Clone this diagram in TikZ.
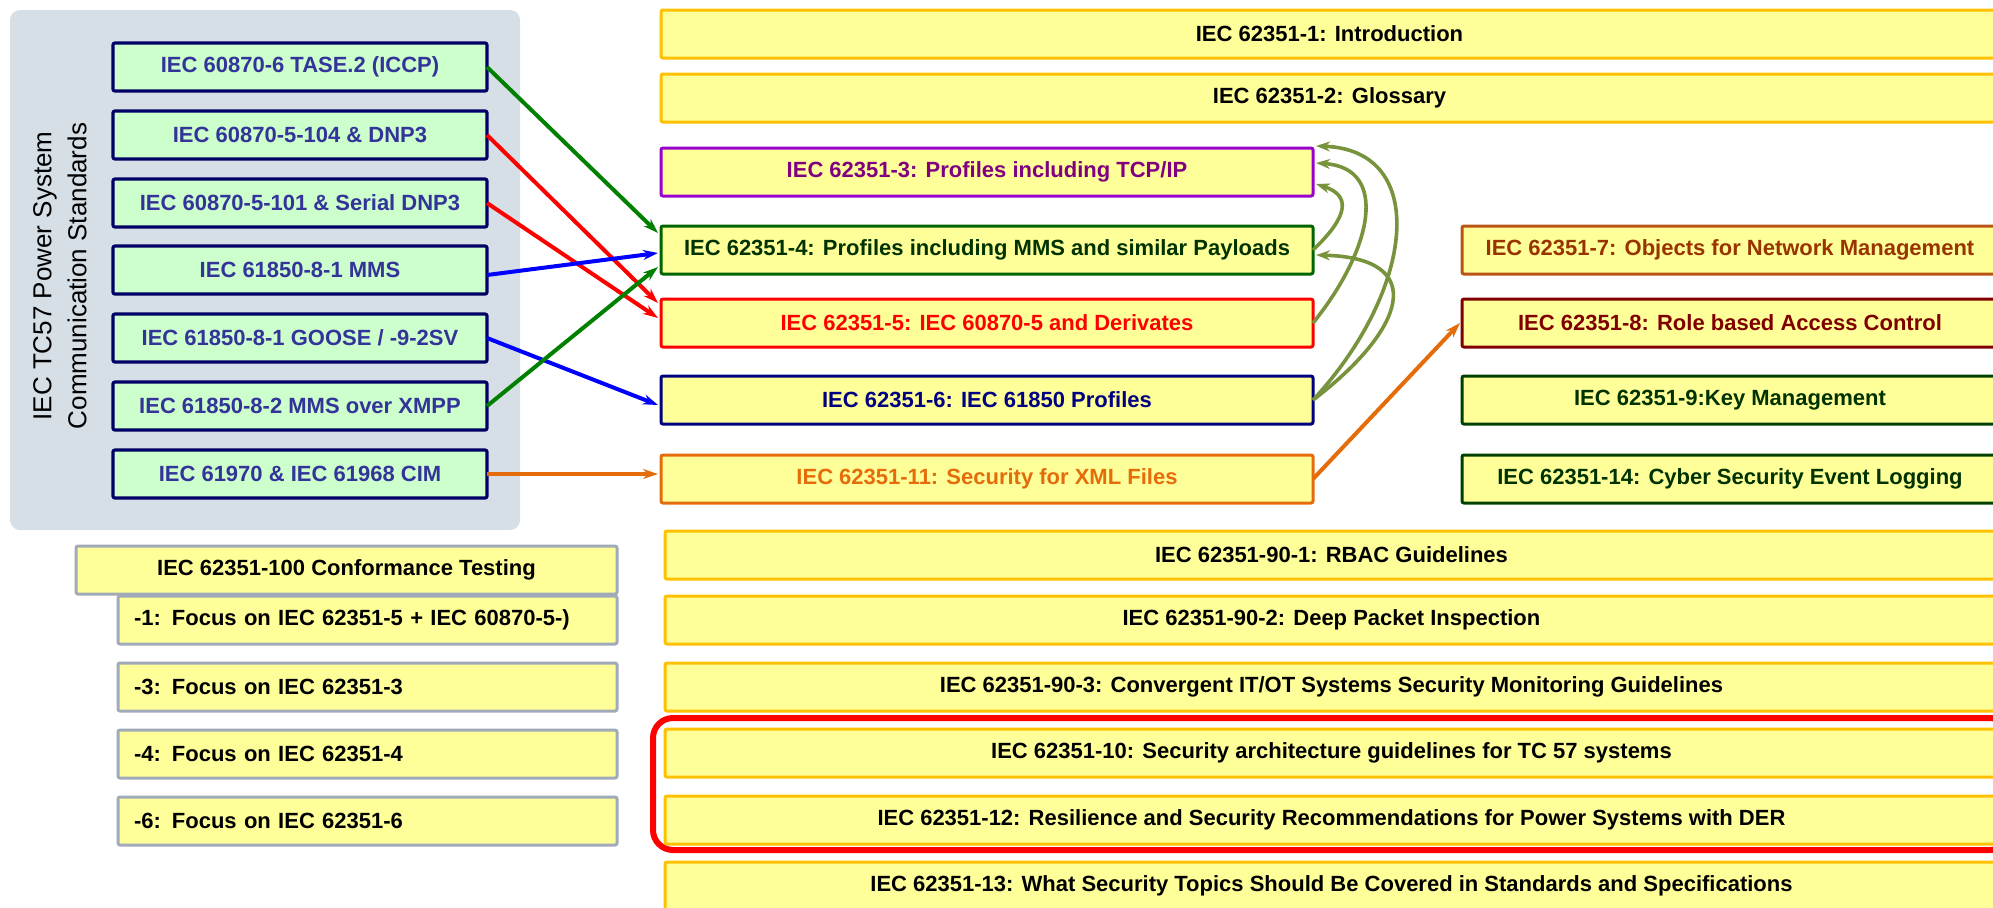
\documentclass[tikz,border=0pt]{standalone}
\usepackage{fontspec}
\setmainfont{Liberation Sans}
\usetikzlibrary{arrows.meta}

\definecolor{panelgray}{RGB}{214,222,230}
\definecolor{boxyellow}{RGB}{255,255,153}
\definecolor{boxgreen}{RGB}{204,255,204}
\definecolor{amber}{RGB}{255,192,0}
\definecolor{navyline}{RGB}{0,0,102}
\definecolor{stdblue}{RGB}{51,51,153}
\definecolor{purpleline}{RGB}{153,0,204}
\definecolor{purpletext}{RGB}{128,0,128}
\definecolor{dkgreen}{RGB}{0,100,0}
\definecolor{dkgreentext}{RGB}{0,51,0}
\definecolor{navytext}{RGB}{0,0,128}
\definecolor{orangeline}{RGB}{228,108,10}
\definecolor{brownline}{RGB}{184,84,20}
\definecolor{browntext}{RGB}{153,51,0}
\definecolor{maroonline}{RGB}{128,0,0}
\definecolor{forest}{RGB}{0,64,0}
\definecolor{greyline}{RGB}{160,170,184}
\definecolor{arrgreen}{RGB}{0,128,0}
\definecolor{arrolive}{RGB}{119,147,60}

\begin{document}
\begin{tikzpicture}[x=0.5pt, y=-0.5pt, >={Stealth[length=7.5pt,width=5pt]},
    font=\fontsize{11}{13}\selectfont\bfseries,
    every node/.style={inner sep=0pt, outer sep=0pt},
    src/.style={draw=navyline, fill=boxgreen, text=stdblue, line width=1.6pt, rounded corners=1pt, minimum width=187pt, minimum height=24pt},
    part/.style={fill=boxyellow, line width=1.5pt, rounded corners=1pt, minimum height=24pt},
    mid/.style={part, minimum width=326pt},
    wide/.style={part, draw=amber, anchor=west, minimum width=668.5pt},
    side/.style={part, anchor=west, minimum width=268pt},
    test/.style={part, draw=greyline, anchor=west, text width=233.5pt, inner xsep=8pt, align=left},
    link/.style={->, line width=2pt},
    back/.style={-{Stealth[length=7pt,width=5pt]}, line width=1.8pt, draw=arrolive}]
    \useasboundingbox (0,0) rectangle (1993,907);

    % (a) TC57 communication standards
    \fill[panelgray, rounded corners=5pt] (10,10) rectangle (520,530);
    \node[rotate=90, align=center, font=\fontsize{13}{17.5}\selectfont] (tc57) at (60,276) {IEC TC57 Power System\\Communication Standards};
    \node[src] (s1) at (300,67) {IEC 60870-6 TASE.2 (ICCP)};  \node[src] (s2) at (300,135) {IEC 60870-5-104 \& DNP3};
    \node[src] (s3) at (300,203) {IEC 60870-5-101 \& Serial DNP3};  \node[src] (s4) at (300,270) {IEC 61850-8-1 MMS};
    \node[src] (s5) at (300,338) {IEC 61850-8-1 GOOSE / -9-2SV};  \node[src] (s6) at (300,406) {IEC 61850-8-2 MMS over XMPP};
    \node[src] (s7) at (300,474) {IEC 61970 \& IEC 61968 CIM};

    % (b) IEC 62351 parts
    \node[wide] (p1) at (661,34) {IEC 62351-1: Introduction};
    \node[wide] (p2) at (661,98) {IEC 62351-2: Glossary};
    \node[mid, draw=purpleline, text=purpletext] (p3) at (987,172) {IEC 62351-3: Profiles including TCP/IP};
    \node[mid, draw=dkgreen, text=dkgreentext] (p4) at (987,250) {IEC 62351-4: Profiles including MMS and similar Payloads};
    \node[mid, draw=red, text=red] (p5) at (987,323) {IEC 62351-5: IEC 60870-5 and Derivates};
    \node[mid, draw=navytext, text=navytext] (p6) at (987,400) {IEC 62351-6: IEC 61850 Profiles};
    \node[mid, draw=orangeline, text=orangeline] (p11) at (987,479) {IEC 62351-11: Security for XML Files};

    \node[side, draw=brownline, text=browntext] (r7) at (1462,250) {IEC 62351-7: Objects for Network Management};
    \node[side, draw=maroonline, text=maroonline] (r8) at (1462,323) {IEC 62351-8: Role based Access Control};
    \node[side, draw=forest, text=dkgreentext] (r9) at (1462,400) {IEC 62351-9:Key Management};
    \node[side, draw=forest, text=dkgreentext] (r14) at (1462,479) {IEC 62351-14: Cyber Security Event Logging};

    \node[wide, minimum width=666.5pt] (g1) at (665,555) {IEC 62351-90-1: RBAC Guidelines};
    \node[wide, minimum width=666.5pt] (g2) at (665,620) {IEC 62351-90-2: Deep Packet Inspection};
    \node[wide, minimum width=666.5pt] (g3) at (665,687) {IEC 62351-90-3: Convergent IT/OT Systems Security Monitoring Guidelines};
    \node[wide, minimum width=666.5pt] (p10) at (665,753) {IEC 62351-10: Security architecture guidelines for TC 57 systems};
    \node[wide, minimum width=666.5pt] (p12) at (665,820) {IEC 62351-12: Resilience and Security Recommendations for Power Systems with DER};
    \node[wide, minimum width=666.5pt] (p13) at (665,886) {IEC 62351-13: What Security Topics Should Be Covered in Standards and Specifications};
    \draw[red, line width=3pt, rounded corners=10pt] (653,718) rectangle (2010,850);

    % (c) conformance testing
    \node[part, draw=greyline, anchor=west, minimum width=270.5pt] (c100) at (76,570) {IEC 62351-100 Conformance Testing};
    \node[test] (c1) at (118,620) {-1: Focus on IEC 62351-5 + IEC 60870-5-)};
    \node[test] (c3) at (118,687) {-3: Focus on IEC 62351-3};
    \node[test] (c4) at (118,754) {-4: Focus on IEC 62351-4};
    \node[test] (c6) at (118,821) {-6: Focus on IEC 62351-6};

    % mapping arrows
    \draw[link, arrgreen] (s1.east) -- ([shift={(-1.5pt,8.5pt)}]p4.west);
    \draw[link, red] (s2.east) -- ([shift={(-1.5pt,10pt)}]p5.west);
    \draw[link, red] (s3.east) -- ([shift={(-1.5pt,2.5pt)}]p5.west);
    \draw[link, blue] ([yshift=-2.5pt]s4.east) -- ([shift={(-1.5pt,-1.5pt)}]p4.west);
    \draw[link, blue] (s5.east) -- ([shift={(-1.5pt,-2.5pt)}]p6.west);
    \draw[link, arrgreen] (s6.east) -- ([shift={(-1.5pt,-8.5pt)}]p4.west);
    \draw[link, orangeline] (s7.east) -- ([xshift=-1.5pt]s7.east -| p11.west);
    \draw[link, orangeline] (p11.east) -- ([xshift=-1pt]r8.west);

    \draw[back] (p4.east) .. controls (1350,215) and (1350,195) .. ([shift={(1.5pt,-6pt)}]p3.east);
    \draw[back] (p5.east) .. controls (1372,250) and (1390,168) .. ([shift={(1.5pt,4.5pt)}]p3.east);
    \draw[back] (p6.east) .. controls (1415,290) and (1430,150) .. ([shift={(1.5pt,1pt)}]p3.north east);
    \draw[back] (p6.east) .. controls (1405,330) and (1430,258) .. ([shift={(1.5pt,-2.5pt)}]p4.east);
\end{tikzpicture}
\end{document}
